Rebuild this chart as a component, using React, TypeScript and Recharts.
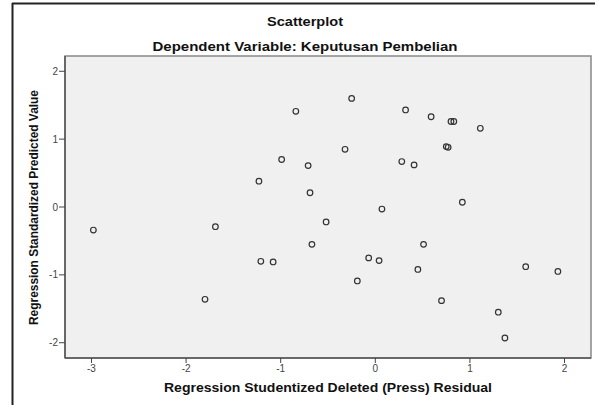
import React from 'react'
import {
  ReferenceArea,
  Scatter,
  ScatterChart,
  XAxis,
  YAxis,
} from 'recharts'

// SPSS residual scatterplot: studentized deleted residual vs standardized predicted value
const residual = [
  -2.98, -1.8, -1.69, -1.23, -1.21, -1.08, -0.99, -0.84, -0.71, -0.69, -0.67, -0.52,
  -0.32, -0.25, -0.19, -0.07, 0.04, 0.07, 0.28, 0.32, 0.41, 0.45, 0.51, 0.59, 0.7,
  0.75, 0.77, 0.8, 0.83, 0.92, 1.11, 1.3, 1.37, 1.59, 1.93,
]
const predicted = [
  -0.34, -1.36, -0.29, 0.38, -0.8, -0.81, 0.7, 1.41, 0.61, 0.21, -0.55, -0.22,
  0.85, 1.6, -1.09, -0.75, -0.79, -0.03, 0.67, 1.43, 0.62, -0.92, -0.55, 1.33, -1.38,
  0.89, 0.88, 1.26, 1.26, 0.07, 1.16, -1.55, -1.93, -0.88, -0.95,
]
const xTicks = [-3, -2, -1, 0, 1, 2]
const yTicks = [-2, -1, 0, 1, 2]
const xDomain: [number, number] = [-3.28, 2.28]
const yDomain: [number, number] = [-2.225, 2.225]

const title = 'Scatterplot'
const subtitle = 'Dependent Variable: Keputusan Pembelian'
const xTitle = 'Regression Studentized Deleted (Press) Residual'
const yTitle = 'Regression Standardized Predicted Value'

const points = residual.map((x, i) => ({ x, y: predicted[i] }))

const font = 'Arial, "Liberation Sans", sans-serif'
const tickStyle = { fontSize: 10, fill: '#444', fontFamily: font }

const OpenCircle = (props: any) => (
  <circle cx={props.cx} cy={props.cy} r={2.8} fill="none" stroke="#333" strokeWidth={1.2} />
)

export default function App() {
  return (
    <div style={{ position: 'absolute', left: 0, top: 0, width: 595, height: 405, background: '#fff' }}>
      <ScatterChart width={595} height={405} margin={{ top: 56, right: 4, bottom: 27, left: 35 }}>
        <XAxis
          type="number"
          dataKey="x"
          domain={xDomain}
          ticks={xTicks}
          allowDataOverflow
          height={20}
          tickSize={5}
          tickMargin={2}
          tick={tickStyle}
          stroke="#555"
          axisLine={{ stroke: '#555', strokeWidth: 1.5 }}
          tickLine={{ stroke: '#444' }}
        />
        <YAxis
          type="number"
          dataKey="y"
          domain={yDomain}
          ticks={yTicks}
          allowDataOverflow
          width={30}
          tickSize={6}
          tickMargin={1}
          tick={tickStyle}
          stroke="#555"
          axisLine={{ stroke: '#555', strokeWidth: 1.5 }}
          tickLine={{ stroke: '#444' }}
        />
        <ReferenceArea
          x1={xDomain[0]}
          x2={xDomain[1]}
          y1={yDomain[0]}
          y2={yDomain[1]}
          fill="#f0f0f0"
          fillOpacity={1}
          stroke="#888"
          strokeWidth={1.5}
        />
        <Scatter data={points} shape={OpenCircle} isAnimationActive={false} />
      </ScatterChart>
      <svg
        width={595}
        height={405}
        style={{ position: 'absolute', left: 0, top: 0, pointerEvents: 'none' }}
      >
        <line x1={12} y1={3.5} x2={595} y2={3.5} stroke="#222" strokeWidth={2} />
        <line x1={12.5} y1={3} x2={12.5} y2={405} stroke="#222" strokeWidth={2} />
        <text x={305} y={25.5} textAnchor="middle" fontFamily={font} fontWeight="bold" fontSize={12}
          textLength={76} lengthAdjust="spacingAndGlyphs" fill="#111">{title}</text>
        <text x={305} y={51} textAnchor="middle" fontFamily={font} fontWeight="bold" fontSize={12}
          textLength={305} lengthAdjust="spacingAndGlyphs" fill="#111">{subtitle}</text>
        <text x={328} y={391.5} textAnchor="middle" fontFamily={font} fontWeight="bold" fontSize={12}
          textLength={328} lengthAdjust="spacingAndGlyphs" fill="#111">{xTitle}</text>
        <text x={38} y={207.5} textAnchor="middle" fontFamily={font} fontWeight="bold" fontSize={12}
          transform="rotate(-90 38 207.5)" textLength={235} lengthAdjust="spacingAndGlyphs"
          fill="#111">{yTitle}</text>
      </svg>
    </div>
  )
}
